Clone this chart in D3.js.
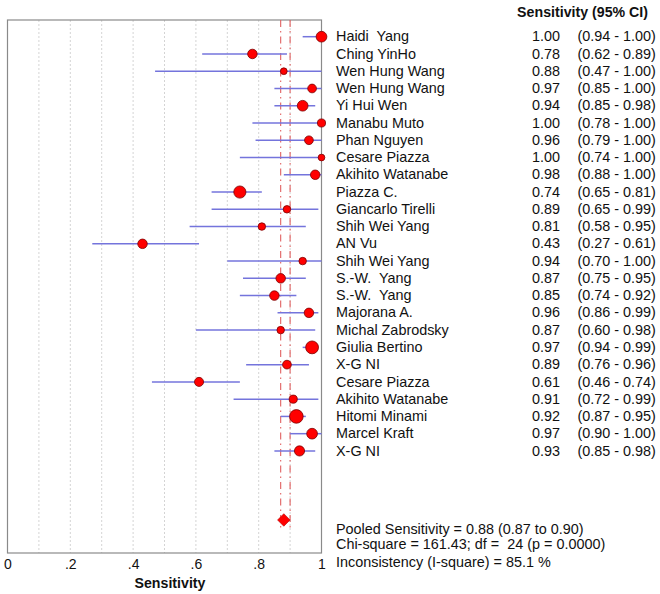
<!DOCTYPE html>
<html>
<head>
<meta charset="utf-8">
<script src="https://cdn.jsdelivr.net/npm/d3@7"></script>
<style>
  html, body { margin: 0; padding: 0; background: #fff; }
  svg { display: block; }
  text { font-family: "Liberation Sans", Arial, sans-serif; fill: #111; }
</style>
</head>
<body>
<div id="chart"></div>
<script>
const studies = ["Haidi  Yang","Ching YinHo","Wen Hung Wang","Wen Hung Wang","Yi Hui Wen","Manabu Muto","Phan Nguyen","Cesare Piazza","Akihito Watanabe","Piazza C.","Giancarlo Tirelli","Shih Wei Yang","AN Vu","Shih Wei Yang","S.-W.  Yang","S.-W.  Yang","Majorana A.","Michal Zabrodsky","Giulia Bertino","X-G NI","Cesare Piazza","Akihito Watanabe","Hitomi Minami","Marcel Kraft","X-G NI"];
const sensitivity = [1.00,0.78,0.88,0.97,0.94,1.00,0.96,1.00,0.98,0.74,0.89,0.81,0.43,0.94,0.87,0.85,0.96,0.87,0.97,0.89,0.61,0.91,0.92,0.97,0.93];
const lower = [0.94,0.62,0.47,0.85,0.85,0.78,0.79,0.74,0.88,0.65,0.65,0.58,0.27,0.70,0.75,0.74,0.86,0.60,0.94,0.76,0.46,0.72,0.87,0.90,0.85];
const upper = [1.00,0.89,1.00,1.00,0.98,1.00,1.00,1.00,1.00,0.81,0.99,0.95,0.61,1.00,0.95,0.92,0.99,0.98,0.99,0.96,0.74,0.99,0.95,1.00,0.98];
const weights = [28,22,11,18.5,28,16,18.5,11,22,36,13.7,13.7,22,13.7,22,22,22,13.7,40,18.5,20,16,45,28,25];
const pooled = 0.88, pooledLow = 0.87, pooledHigh = 0.90;
const xTicks = [0, 0.2, 0.4, 0.6, 0.8, 1];
const gridTicks = [0.1,0.2,0.3,0.4,0.5,0.6,0.7,0.8,0.9];
const header = "Sensitivity (95% CI)";
const xLabel = "Sensitivity";
const footer = ["Pooled Sensitivity = 0.88 (0.87 to 0.90)","Chi-square = 161.43; df =  24 (p = 0.0000)","Inconsistency (I-square) = 85.1 %"];

const W = 660, H = 594;
const svg = d3.select("#chart").append("svg").attr("width", W).attr("height", H);
svg.append("rect").attr("width", W).attr("height", H).attr("fill", "#fff");

const plot = {left: 7.5, right: 321.5, top: 20, bottom: 553};
const x = d3.scaleLinear().domain([0, 1]).range([plot.left, plot.right]);
const y = d3.scaleLinear().domain([0, 1]).range([36.7, 36.7 + 17.26]);
const r = d3.scaleSqrt().domain([0, 45]).range([0, 6.8]);
const fmt = d3.format(".2f");

// gridlines
svg.append("g").selectAll("line").data(gridTicks).join("line")
  .attr("x1", d => x(d)).attr("x2", d => x(d))
  .attr("y1", plot.top).attr("y2", plot.bottom)
  .attr("stroke", "#d4d4d4").attr("stroke-width", 1).attr("stroke-dasharray", "2,2");

// frame
svg.append("rect").attr("x", plot.left).attr("y", plot.top)
  .attr("width", plot.right - plot.left).attr("height", plot.bottom - plot.top)
  .attr("fill", "none").attr("stroke", "#8a8a8a").attr("stroke-width", 1.2);

// pooled CI lines
svg.append("g").selectAll("line").data([pooledLow, pooledHigh]).join("line")
  .attr("x1", d => x(d)).attr("x2", d => x(d))
  .attr("y1", plot.top).attr("y2", y(28.6))
  .attr("stroke", "#e06060").attr("stroke-width", 1.1).attr("stroke-dasharray", "7,4,1.5,4");

const rows = studies.map((s, i) => ({s, i, v: sensitivity[i], lo: lower[i], hi: upper[i], w: weights[i]}));

// CI lines
svg.append("g").selectAll("line").data(rows).join("line")
  .attr("x1", d => x(d.lo)).attr("x2", d => x(d.hi))
  .attr("y1", d => y(d.i)).attr("y2", d => y(d.i))
  .attr("stroke", "#7474dc").attr("stroke-width", 1.5);

// points
svg.append("g").selectAll("circle").data(rows).join("circle")
  .attr("cx", d => x(d.v)).attr("cy", d => y(d.i)).attr("r", d => r(d.w))
  .attr("fill", "#ff0000").attr("stroke", "#7a0000").attr("stroke-width", 0.8);

// pooled diamond
const dy = y(28), dx = x(pooled);
svg.append("path")
  .attr("d", d3.symbol(d3.symbolDiamond2, 100)())
  .attr("transform", `translate(${dx},${dy})`)
  .attr("fill", "#ff0000").attr("stroke", "#b00000").attr("stroke-width", 0.6);

// x axis
const axis = d3.axisBottom(x).tickValues(xTicks).tickSize(0).tickPadding(6)
  .tickFormat(d => d === 0 ? "0" : d === 1 ? "1" : d3.format(".1f")(d).replace(/^0/, ""));
const ax = svg.append("g").attr("transform", `translate(0,${plot.bottom})`).call(axis);
ax.select(".domain").remove();
ax.selectAll("text").attr("font-size", 14).attr("fill", "#111")
  .style("font-family", '"Liberation Sans", Arial, sans-serif');

svg.append("text").attr("x", 170).attr("y", 588).attr("text-anchor", "middle")
  .attr("font-size", 14.2).attr("font-weight", "bold").text(xLabel);

// header
svg.append("text").attr("x", 648).attr("y", 17).attr("text-anchor", "end")
  .attr("font-size", 14.2).attr("font-weight", "bold").text(header);

// row labels
const tg = svg.append("g").attr("font-size", 14.4);
tg.selectAll("text.name").data(rows).join("text").attr("class", "name")
  .attr("x", 336).attr("y", d => y(d.i) + 4.6).style("white-space", "pre").text(d => d.s);
tg.selectAll("text.val").data(rows).join("text").attr("class", "val")
  .attr("x", 560).attr("y", d => y(d.i) + 4.6).attr("text-anchor", "end").text(d => fmt(d.v));
tg.selectAll("text.ci").data(rows).join("text").attr("class", "ci")
  .attr("x", 577.5).attr("y", d => y(d.i) + 4.6).text(d => `(${fmt(d.lo)} - ${fmt(d.hi)})`);

// footer
const footY = [534.3, 549.3, 566.7];
svg.append("g").attr("font-size", 14.4).selectAll("text").data(footer).join("text")
  .attr("x", 336).attr("y", (d, i) => footY[i]).style("white-space", "pre").text(d => d);
</script>
</body>
</html>
